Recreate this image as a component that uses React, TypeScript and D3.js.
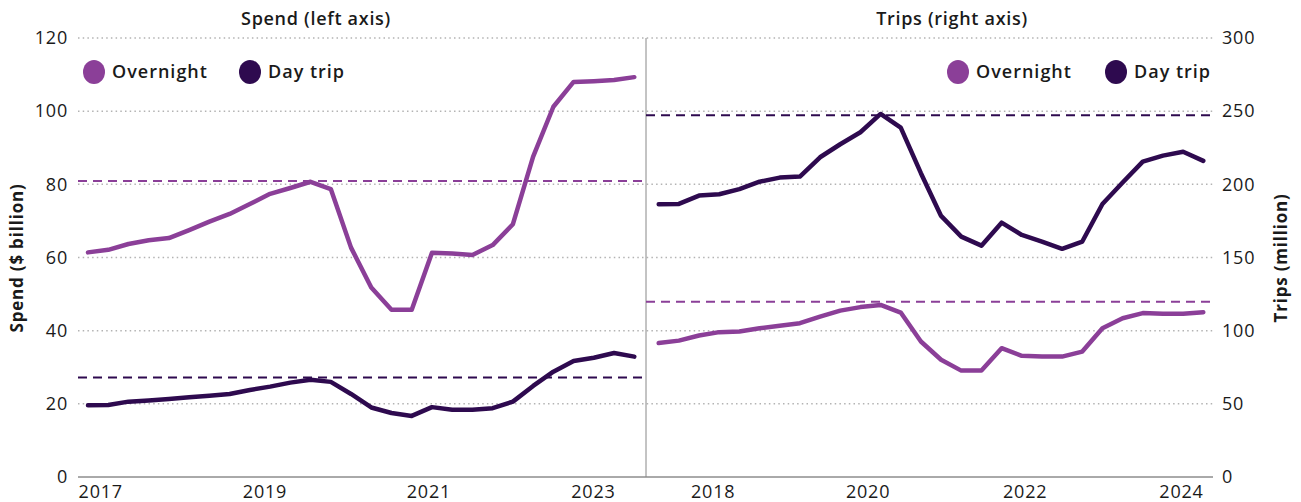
import { useEffect, useRef } from "react"
import * as d3 from "d3"

// quarterly observations, 28 quarters each panel
const spendOvernight = [
  61.4, 62.1, 63.7, 64.7, 65.3, 67.5, 69.8, 71.9, 74.6, 77.4, 79.0, 80.7, 78.7, 62.7,
  51.8, 45.7, 45.7, 61.3, 61.1, 60.7, 63.4, 69.1, 87.6, 101.2, 108.0, 108.2, 108.5, 109.3,
]
const spendDayTrip = [
  19.6, 19.7, 20.6, 20.9, 21.3, 21.8, 22.2, 22.7, 23.8, 24.7, 25.8, 26.6, 26.0, 22.7,
  19.0, 17.5, 16.7, 19.1, 18.4, 18.4, 18.8, 20.6, 24.9, 28.8, 31.7, 32.6, 33.9, 32.9,
]
const tripsOvernight = [
  91.5, 93.2, 96.7, 99.0, 99.4, 101.7, 103.3, 105.1, 109.6, 113.7, 116.1, 117.6, 112.4, 92.6,
  80.1, 72.7, 72.7, 88.0, 82.8, 82.3, 82.3, 85.7, 101.7, 108.5, 112.0, 111.5, 111.5, 112.6,
]
const tripsDayTrip = [
  186.4, 186.6, 192.3, 193.2, 196.7, 201.8, 204.6, 205.3, 218.5, 227.4, 235.6, 248.1, 238.7, 207.6,
  178.4, 164.3, 158.1, 173.8, 165.4, 160.9, 155.9, 160.9, 186.6, 201.2, 215.5, 219.6, 222.3, 216.0,
]

// pre-pandemic reference levels (dashed)
const spendRefs = [80.9, 27.2]
const tripsRefs = [119.7, 247.2]

const leftYears = ["2017", "2019", "2021", "2023"]
const leftYearAt = [0.63, 8.75, 16.85, 24.98]
const rightYears = ["2018", "2020", "2022", "2024"]
const rightYearAt = [2.7, 10.38, 18.17, 25.92]

const leftTicks = [0, 20, 40, 60, 80, 100, 120]
const rightTicks = [0, 50, 100, 150, 200, 250, 300]

const seriesNames = ["Overnight", "Day trip"]
const colors = ["#8b3f98", "#2e0a4f"]

const W = 1301
const H = 502

export default function App() {
  const svgRef = useRef<SVGSVGElement>(null)

  useEffect(() => {
    if (!svgRef.current) return
    const svg = d3.select(svgRef.current)
    svg.selectAll("*").remove()

    const font = "'Open Sans', Lato, sans-serif"
    const plotLeft = 78
    const plotRight = 1213
    const divider = 646
    const top = 38
    const bottom = 477

    const yL = d3.scaleLinear().domain([0, 120]).range([bottom, top])
    const yR = d3.scaleLinear().domain([0, 300]).range([bottom, top])
    const xL = d3.scaleLinear().domain([0, 27]).range([88, 634.3])
    const xR = d3.scaleLinear().domain([0, 27]).range([658.7, 1203.3])

    // gridlines
    svg.append("g")
      .selectAll("line")
      .data(leftTicks.slice(1))
      .join("line")
      .attr("x1", plotLeft)
      .attr("x2", plotRight)
      .attr("y1", (d) => yL(d))
      .attr("y2", (d) => yL(d))
      .attr("stroke", "#b3b3b3")
      .attr("stroke-width", 1.5)
      .attr("stroke-dasharray", "1.5,3.2")

    // baseline + divider
    svg.append("line")
      .attr("x1", plotLeft).attr("x2", plotRight)
      .attr("y1", bottom).attr("y2", bottom)
      .attr("stroke", "#555").attr("stroke-width", 1)
    svg.append("line")
      .attr("x1", divider).attr("x2", divider)
      .attr("y1", top).attr("y2", bottom)
      .attr("stroke", "#888").attr("stroke-width", 1)

    // y axes
    const axL = svg.append("g")
      .attr("transform", `translate(${plotLeft},0)`)
      .call(d3.axisLeft(yL).tickValues(leftTicks).tickSize(0).tickPadding(10))
    const axR = svg.append("g")
      .attr("transform", `translate(${plotRight},0)`)
      .call(d3.axisRight(yR).tickValues(rightTicks).tickSize(0).tickPadding(9))
    for (const ax of [axL, axR]) {
      ax.select(".domain").remove()
      ax.selectAll("text")
        .attr("fill", "#1a1a1a")
        .style("font-family", font)
        .style("font-size", "18px")
        .style("letter-spacing", "0.8px")
    }

    // x labels
    const xLabels = [
      ...leftYears.map((t, i) => ({ t, x: xL(leftYearAt[i]) })),
      ...rightYears.map((t, i) => ({ t, x: xR(rightYearAt[i]) })),
    ]
    svg.append("g")
      .selectAll("text")
      .data(xLabels)
      .join("text")
      .attr("x", (d) => d.x)
      .attr("y", 498)
      .attr("text-anchor", "middle")
      .attr("fill", "#1a1a1a")
      .style("font-family", font)
      .style("font-size", "18px")
      .style("letter-spacing", "0.8px")
      .text((d) => d.t)

    // dashed reference lines
    spendRefs.forEach((v, i) => {
      svg.append("line")
        .attr("x1", plotLeft).attr("x2", divider)
        .attr("y1", yL(v)).attr("y2", yL(v))
        .attr("stroke", colors[i]).attr("stroke-width", 2)
        .attr("stroke-dasharray", "9,6")
    })
    tripsRefs.forEach((v, i) => {
      svg.append("line")
        .attr("x1", divider).attr("x2", plotRight)
        .attr("y1", yR(v)).attr("y2", yR(v))
        .attr("stroke", colors[i]).attr("stroke-width", 2)
        .attr("stroke-dasharray", "9,6")
    })

    // lines
    const lineL = d3.line<number>().x((_, i) => xL(i)).y((d) => yL(d))
    const lineR = d3.line<number>().x((_, i) => xR(i)).y((d) => yR(d))
    const drawLine = (data: number[], gen: d3.Line<number>, color: string) =>
      svg.append("path")
        .datum(data)
        .attr("fill", "none")
        .attr("stroke", color)
        .attr("stroke-width", 4.5)
        .attr("stroke-linejoin", "round")
        .attr("stroke-linecap", "round")
        .attr("d", gen)
    drawLine(spendOvernight, lineL, colors[0])
    drawLine(spendDayTrip, lineL, colors[1])
    drawLine(tripsOvernight, lineR, colors[0])
    drawLine(tripsDayTrip, lineR, colors[1])

    // panel titles
    const titles = [
      { t: "Spend (left axis)", x: 316 },
      { t: "Trips (right axis)", x: 952 },
    ]
    svg.append("g")
      .selectAll("text")
      .data(titles)
      .join("text")
      .attr("x", (d) => d.x)
      .attr("y", 25)
      .attr("text-anchor", "middle")
      .attr("fill", "#1a1a1a")
      .style("font-family", font)
      .style("font-size", "18px")
      .style("font-weight", 600)
      .style("letter-spacing", "0.7px")
      .text((d) => d.t)

    // axis titles
    const axisTitles = [
      { t: "Spend ($ billion)", x: 23 },
      { t: "Trips (million)", x: 1287 },
    ]
    svg.append("g")
      .selectAll("text")
      .data(axisTitles)
      .join("text")
      .attr("transform", (d) => `translate(${d.x},258) rotate(-90)`)
      .attr("text-anchor", "middle")
      .attr("fill", "#1a1a1a")
      .style("font-family", font)
      .style("font-size", "17px")
      .style("font-weight", 700)
      .style("letter-spacing", "0.8px")
      .text((d) => d.t)

    // legends
    const legends = [
      { x: 94, items: [0, 1], gap: 156 },
      { x: 958, items: [0, 1], gap: 158 },
    ]
    legends.forEach((lg) => {
      lg.items.forEach((k, j) => {
        const cx = lg.x + j * lg.gap
        svg.append("ellipse")
          .attr("cx", cx).attr("cy", 72)
          .attr("rx", 11).attr("ry", 12)
          .attr("fill", colors[k])
        svg.append("text")
          .attr("x", cx + 18).attr("y", 78)
          .attr("fill", "#1a1a1a")
          .style("font-family", font)
          .style("font-size", "18px")
          .style("font-weight", 600)
          .style("letter-spacing", "1px")
          .text(seriesNames[k])
      })
    })
  }, [])

  return (
    <svg
      ref={svgRef}
      width={W}
      height={H}
      style={{ position: "absolute", left: 0, top: 0, display: "block", background: "#fff" }}
    />
  )
}
